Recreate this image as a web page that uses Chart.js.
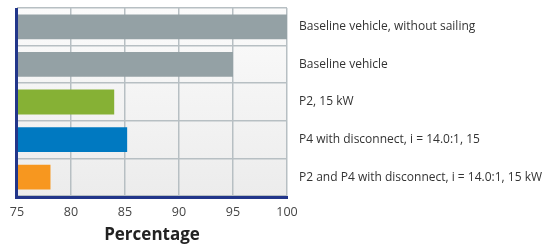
<!DOCTYPE html>
<html>
<head>
<meta charset="utf-8">
<script src="https://cdn.jsdelivr.net/npm/chart.js@4.4.1/dist/chart.umd.min.js"></script>
<style>
  html, body { margin: 0; padding: 0; background: #fff; }
  #wrap { width: 553px; height: 245px; }
</style>
</head>
<body>
<div id="wrap"><canvas id="chart" width="553" height="245"></canvas></div>
<script>
const categories = [
  'Baseline vehicle, without sailing',
  'Baseline vehicle',
  'P2, 15 kW',
  'P4 with disconnect, i = 14.0:1, 15',
  'P2 and P4 with disconnect, i = 14.0:1, 15 kW'
];
const values = [100, 95, 84, 85.2, 78.1];
const barColors = ['#94a1a5', '#94a1a5', '#86b135', '#0079c1', '#f7971f'];
const xTicks = [75, 80, 85, 90, 95, 100];

const axisBlue = '#22368a';
const gridGray = '#b7bfc3';

// plot background gradient + dark left/bottom axis lines
const frame = {
  id: 'frame',
  beforeDraw(chart) {
    const { ctx, chartArea: a } = chart;
    const g = ctx.createLinearGradient(0, a.top, 0, a.bottom);
    g.addColorStop(0, '#fbfbfb');
    g.addColorStop(1, '#ececec');
    ctx.save();
    ctx.fillStyle = g;
    ctx.fillRect(a.left, a.top, a.right - a.left, a.bottom - a.top);
    ctx.restore();
  },
  afterDatasetsDraw(chart) {
    const { ctx, chartArea: a } = chart;
    ctx.save();
    ctx.strokeStyle = axisBlue;
    ctx.lineWidth = 3;
    ctx.beginPath();
    ctx.moveTo(a.left - 0.5, a.top);
    ctx.lineTo(a.left - 0.5, a.bottom + 1.5);
    ctx.lineTo(a.right + 1, a.bottom + 1.5);
    ctx.stroke();
    ctx.restore();
  }
};

new Chart(document.getElementById('chart'), {
  type: 'bar',
  data: {
    labels: categories,
    datasets: [{
      data: values,
      backgroundColor: barColors,
      borderWidth: 0,
      categoryPercentage: 0.66,
      barPercentage: 1
    }]
  },
  options: {
    indexAxis: 'y',
    responsive: false,
    animation: false,
    layout: { padding: { left: 17, top: 8, right: 0, bottom: 0 } },
    plugins: { legend: { display: false }, tooltip: { enabled: false } },
    scales: {
      x: {
        min: 75,
        max: 100,
        afterBuildTicks(axis) { axis.ticks = xTicks.map(v => ({ value: v })); },
        grid: { color: gridGray, lineWidth: 1.5, drawTicks: false },
        border: { display: false },
        ticks: {
          color: '#444',
          font: { family: 'Open Sans', size: 12.5 },
          padding: 9
        },
        title: {
          display: true,
          text: 'Percentage',
          color: '#222',
          font: { family: 'Open Sans', size: 17, weight: 'bold' },
          padding: { top: 0, bottom: 0 }
        },
        afterFit(axis) { axis.height = 49; }
      },
      y: {
        position: 'right',
        grid: { color: gridGray, lineWidth: 1.5, drawTicks: false, offset: true },
        border: { display: false },
        ticks: {
          color: '#333',
          font: { family: 'Open Sans', size: 12 },
          padding: 12
        },
        afterFit(axis) {
          axis.width = 266;
          axis.paddingTop = 0;
          axis.paddingBottom = 0;
        }
      }
    }
  },
  plugins: [frame]
});
</script>
</body>
</html>
